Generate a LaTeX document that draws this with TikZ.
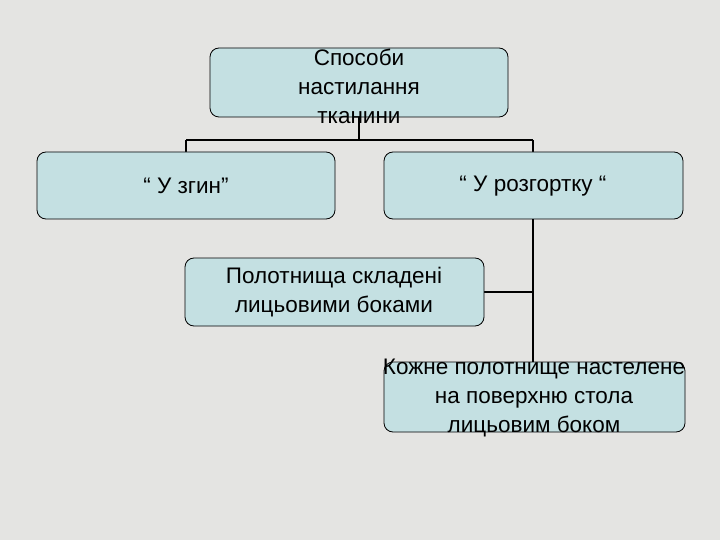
\documentclass[tikz,border=0pt]{standalone}
\usepackage{fontspec}
\setmainfont{Liberation Sans}
\begin{document}
\begin{tikzpicture}[x=1pt,y=-1pt,
 box/.style={draw=black,fill=boxc,rounded corners=9pt,line width=0.8pt},
 lbl/.style={font=\fontsize{22.5}{29}\selectfont,align=center,inner sep=0},
 conn/.style={line width=1.6pt}]
\definecolor{boxc}{HTML}{C4E0E2}
\definecolor{bgc}{HTML}{E4E4E2}
\fill[bgc] (0,0) rectangle (720,540);
\useasboundingbox (0,0) rectangle (720,540);
\coordinate (tb) at (359,117);
\coordinate (j) at (359,140);
\coordinate (jl) at (186,140);
\coordinate (jr) at (533,140);
\coordinate (rb) at (533,219);
\coordinate (mb) at (533,292);
\coordinate (bb) at (533,362);
\coordinate (mr) at (484,292);
\draw[conn] (tb)--(j) (jl)--(jr) (jl)--(186,152) (jr)--(533,152);
\draw[conn,line width=2.4pt] (rb)--(bb) (mr)--(mb);
\draw[box] (210,48) rectangle (508,117);
\draw[box] (37,152) rectangle (335,219);
\draw[box] (384,152) rectangle (683,219);
\draw[box] (185,258) rectangle (484,326);
\draw[box] (384,362) rectangle (685,432);
\node[lbl] (t) at (359,86) {Способи\\настилання\\тканини};
\node[lbl] (l) at (186,186) {“ У згин”};
\node[lbl] (r) at (533,186) {“ У розгортку “};
\node[lbl] (m) at (334,292) {Полотнища складені\\лицьовими боками};
\node[lbl] (b) at (534,398) {Кожне полотнище настелене\\на поверхню стола\\лицьовим боком};
\end{tikzpicture}
\end{document}
